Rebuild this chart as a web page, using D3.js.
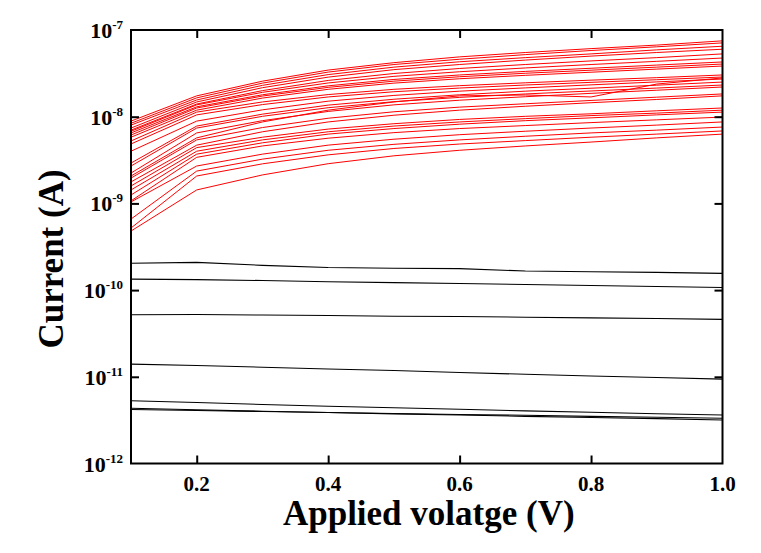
<!DOCTYPE html>
<html>
<head>
<meta charset="utf-8">
<script src="https://cdn.jsdelivr.net/npm/d3@7/dist/d3.min.js"></script>
<style>
  html, body { margin: 0; padding: 0; background: #fff; }
  svg { display: block; }
  text { font-family: "Liberation Serif", "Times New Roman", serif; font-weight: bold; fill: #000; }
</style>
</head>
<body>
<svg id="chart" width="761" height="553"></svg>
<script>
// ---------- data ----------
const voltages = [0.1, 0.2, 0.3, 0.4, 0.5, 0.6, 0.7, 0.8, 0.9, 1.0];

const xTickValues = [0.2, 0.4, 0.6, 0.8, 1.0];
const xTickLabels = ["0.2", "0.4", "0.6", "0.8", "1.0"];
const yTickValues = [1e-12, 1e-11, 1e-10, 1e-9, 1e-8, 1e-7];
const yTickExponents = ["-12", "-11", "-10", "-9", "-8", "-7"];

const xTitle = "Applied volatge (V)";
const yTitle = "Current (A)";

// red curves (current, A)
const redCurves = [
  [8.9e-9, 1.74e-8, 2.57e-8, 3.45e-8, 4.2e-8, 4.9e-8, 5.5e-8, 6.1e-8, 6.7e-8, 7.5e-8],
  [8.4e-9, 1.65e-8, 2.44e-8, 3.27e-8, 4.0e-8, 4.6e-8, 5.2e-8, 5.8e-8, 6.4e-8, 7.1e-8],
  [8.0e-9, 1.56e-8, 2.30e-8, 3.06e-8, 3.73e-8, 4.3e-8, 4.8e-8, 5.3e-8, 5.9e-8, 6.5e-8],
  [7.4e-9, 1.48e-8, 2.16e-8, 2.86e-8, 3.49e-8, 4.0e-8, 4.5e-8, 5.0e-8, 5.5e-8, 6.0e-8],
  [7.0e-9, 1.40e-8, 2.0e-8, 2.62e-8, 3.15e-8, 3.6e-8, 4.0e-8, 4.4e-8, 4.8e-8, 5.3e-8],
  [6.8e-9, 1.37e-8, 1.91e-8, 2.45e-8, 2.92e-8, 3.3e-8, 3.65e-8, 4.0e-8, 4.35e-8, 4.75e-8],
  [6.5e-9, 1.30e-8, 1.79e-8, 2.27e-8, 2.69e-8, 3.03e-8, 3.33e-8, 3.62e-8, 3.94e-8, 4.28e-8],
  [6.15e-9, 1.26e-8, 1.73e-8, 2.18e-8, 2.57e-8, 2.89e-8, 3.17e-8, 3.44e-8, 3.73e-8, 4.05e-8],
  [5.8e-9, 1.19e-8, 1.64e-8, 2.07e-8, 2.44e-8, 2.74e-8, 3.0e-8, 3.26e-8, 3.54e-8, 3.84e-8],
  [5.25e-9, 1.13e-8, 1.48e-8, 1.80e-8, 2.07e-8, 2.28e-8, 2.46e-8, 2.64e-8, 2.82e-8, 3.03e-8],
  [4.85e-9, 1.05e-8, 1.38e-8, 1.69e-8, 1.94e-8, 2.14e-8, 2.32e-8, 2.49e-8, 2.67e-8, 2.87e-8],
  [4.0e-9, 8.9e-9, 1.20e-8, 1.51e-8, 1.76e-8, 1.97e-8, 2.15e-8, 2.33e-8, 2.52e-8, 2.72e-8],
  [2.92e-9, 7.8e-9, 1.07e-8, 1.36e-8, 1.59e-8, 1.79e-8, 1.97e-8, 2.13e-8, 2.31e-8, 2.51e-8],
  [2.7e-9, 7.4e-9, 1.01e-8, 1.27e-8, 1.49e-8, 1.67e-8, 1.83e-8, 1.98e-8, 2.14e-8, 2.32e-8],
  [2.24e-9, 6.5e-9, 9.0e-9, 1.15e-8, 1.37e-8, 1.55e-8, 1.70e-8, 1.86e-8, 2.02e-8, 2.2e-8],
  [2.07e-9, 5.7e-9, 8.7e-9, 1.19e-8, 1.48e-8, 1.74e-8, 1.78e-8, 1.69e-8, 2.38e-8, 2.8e-8],
  [1.96e-9, 5.4e-9, 7.5e-9, 9.6e-9, 1.14e-8, 1.29e-8, 1.41e-8, 1.54e-8, 1.68e-8, 1.83e-8],
  [1.77e-9, 4.7e-9, 6.7e-9, 8.7e-9, 1.04e-8, 1.19e-8, 1.32e-8, 1.45e-8, 1.58e-8, 1.74e-8],
  [1.59e-9, 4.4e-9, 5.8e-9, 7.2e-9, 8.3e-9, 9.3e-9, 1.01e-8, 1.08e-8, 1.17e-8, 1.26e-8],
  [1.43e-9, 4.0e-9, 5.4e-9, 6.7e-9, 7.8e-9, 8.7e-9, 9.5e-9, 1.03e-8, 1.10e-8, 1.19e-8],
  [1.25e-9, 3.7e-9, 5.0e-9, 6.3e-9, 7.3e-9, 8.2e-9, 9.0e-9, 9.7e-9, 1.05e-8, 1.13e-8],
  [1.07e-9, 3.4e-9, 4.6e-9, 5.65e-9, 6.55e-9, 7.3e-9, 7.9e-9, 8.55e-9, 9.2e-9, 9.9e-9],
  [1.04e-9, 2.7e-9, 3.7e-9, 4.7e-9, 5.5e-9, 6.2e-9, 6.8e-9, 7.4e-9, 8.0e-9, 8.7e-9],
  [6.6e-10, 2.36e-9, 3.24e-9, 4.1e-9, 4.8e-9, 5.4e-9, 5.95e-9, 6.5e-9, 7.0e-9, 7.6e-9],
  [5.2e-10, 2.07e-9, 2.86e-9, 3.63e-9, 4.3e-9, 4.84e-9, 5.3e-9, 5.8e-9, 6.3e-9, 6.85e-9],
  [4.8e-10, 1.43e-9, 2.13e-9, 2.87e-9, 3.54e-9, 4.1e-9, 4.6e-9, 5.1e-9, 5.7e-9, 6.3e-9]
];

// black curves (current, A)
const blackCurves = [
  [2.04e-10, 2.09e-10, 1.93e-10, 1.82e-10, 1.79e-10, 1.77e-10, 1.66e-10, 1.63e-10, 1.60e-10, 1.56e-10],
  [1.34e-10, 1.32e-10, 1.29e-10, 1.25e-10, 1.22e-10, 1.19e-10, 1.16e-10, 1.13e-10, 1.10e-10, 1.07e-10],
  [5.2e-11, 5.23e-11, 5.16e-11, 5.1e-11, 5.0e-11, 4.96e-11, 4.87e-11, 4.78e-11, 4.7e-11, 4.6e-11],
  [1.40e-11, 1.35e-11, 1.29e-11, 1.23e-11, 1.18e-11, 1.12e-11, 1.07e-11, 1.02e-11, 9.8e-12, 9.4e-12],
  [5.3e-12, 5.06e-12, 4.8e-12, 4.57e-12, 4.4e-12, 4.22e-12, 4.05e-12, 3.9e-12, 3.75e-12, 3.63e-12],
  [4.33e-12, 4.16e-12, 4.0e-12, 3.87e-12, 3.74e-12, 3.63e-12, 3.5e-12, 3.39e-12, 3.29e-12, 3.18e-12],
  [4.2e-12, 4.09e-12, 3.98e-12, 3.87e-12, 3.77e-12, 3.68e-12, 3.6e-12, 3.5e-12, 3.42e-12, 3.33e-12]
];

// ---------- layout ----------
const plot = { left: 131, right: 722.5, top: 30, bottom: 463.5 };
const svg = d3.select("#chart");

const x = d3.scaleLinear().domain([0.1, 1.0]).range([plot.left, plot.right]);
const y = d3.scaleLog().domain([1e-12, 1e-7]).range([plot.bottom, plot.top]);

svg.append("defs").append("clipPath").attr("id", "clip")
  .append("rect")
  .attr("x", plot.left).attr("y", plot.top)
  .attr("width", plot.right - plot.left).attr("height", plot.bottom - plot.top);

const line = d3.line()
  .x((d, i) => x(voltages[i]))
  .y(d => y(d));

const gLines = svg.append("g").attr("clip-path", "url(#clip)");

gLines.selectAll("path.black")
  .data(blackCurves)
  .join("path")
  .attr("class", "black")
  .attr("d", line)
  .attr("fill", "none")
  .attr("stroke", "#000")
  .attr("stroke-width", 1.1);

gLines.selectAll("path.red")
  .data(redCurves)
  .join("path")
  .attr("class", "red")
  .attr("d", line)
  .attr("fill", "none")
  .attr("stroke", "#ff0000")
  .attr("stroke-width", 1);

// ---------- axes ----------
const tickLen = 8;
const axisStroke = 2;

const xAxisBottom = d3.axisBottom(x)
  .tickValues(xTickValues.filter(v => v < 1.0))
  .tickSizeInner(-tickLen).tickSizeOuter(0)
  .tickFormat("");
const gxb = svg.append("g").attr("transform", `translate(0,${plot.bottom})`).call(xAxisBottom);

const xAxisTop = d3.axisTop(x)
  .tickValues(xTickValues.filter(v => v < 1.0))
  .tickSizeInner(-tickLen).tickSizeOuter(0)
  .tickFormat("");
const gxt = svg.append("g").attr("transform", `translate(0,${plot.top})`).call(xAxisTop);

const innerY = yTickValues.filter(v => v > 1e-12 && v < 1e-7);
const yAxisLeft = d3.axisLeft(y)
  .tickValues(innerY)
  .tickSizeInner(-tickLen).tickSizeOuter(0)
  .tickFormat("");
const gyl = svg.append("g").attr("transform", `translate(${plot.left},0)`).call(yAxisLeft);

const yAxisRight = d3.axisRight(y)
  .tickValues(innerY)
  .tickSizeInner(-tickLen).tickSizeOuter(0)
  .tickFormat("");
const gyr = svg.append("g").attr("transform", `translate(${plot.right},0)`).call(yAxisRight);

[gxb, gxt, gyl, gyr].forEach(g => {
  g.select(".domain").remove();
  g.selectAll(".tick line").attr("stroke", "#000").attr("stroke-width", axisStroke);
});

svg.append("rect")
  .attr("x", plot.left).attr("y", plot.top)
  .attr("width", plot.right - plot.left).attr("height", plot.bottom - plot.top)
  .attr("fill", "none").attr("stroke", "#000").attr("stroke-width", axisStroke);

// x tick labels
svg.append("g").selectAll("text")
  .data(xTickValues)
  .join("text")
  .attr("x", d => x(d))
  .attr("y", plot.bottom + 27)
  .attr("text-anchor", "middle")
  .attr("font-size", 21)
  .text((d, i) => xTickLabels[i]);

// y tick labels: 10^n
const yl = svg.append("g").selectAll("text")
  .data(yTickValues)
  .join("text")
  .attr("x", 123)
  .attr("y", d => y(d) + 8)
  .attr("text-anchor", "end")
  .attr("font-size", 22);
yl.append("tspan").text("10");
yl.append("tspan")
  .attr("font-size", 13)
  .attr("dy", -9)
  .text((d, i) => yTickExponents[i]);

// axis titles
svg.append("text")
  .attr("x", (plot.left + plot.right) / 2 + 2)
  .attr("y", 525)
  .attr("text-anchor", "middle")
  .attr("font-size", 35)
  .text(xTitle);

svg.append("text")
  .attr("transform", `translate(63,259) rotate(-90)`)
  .attr("text-anchor", "middle")
  .attr("font-size", 35)
  .text(yTitle);
</script>
</body>
</html>
